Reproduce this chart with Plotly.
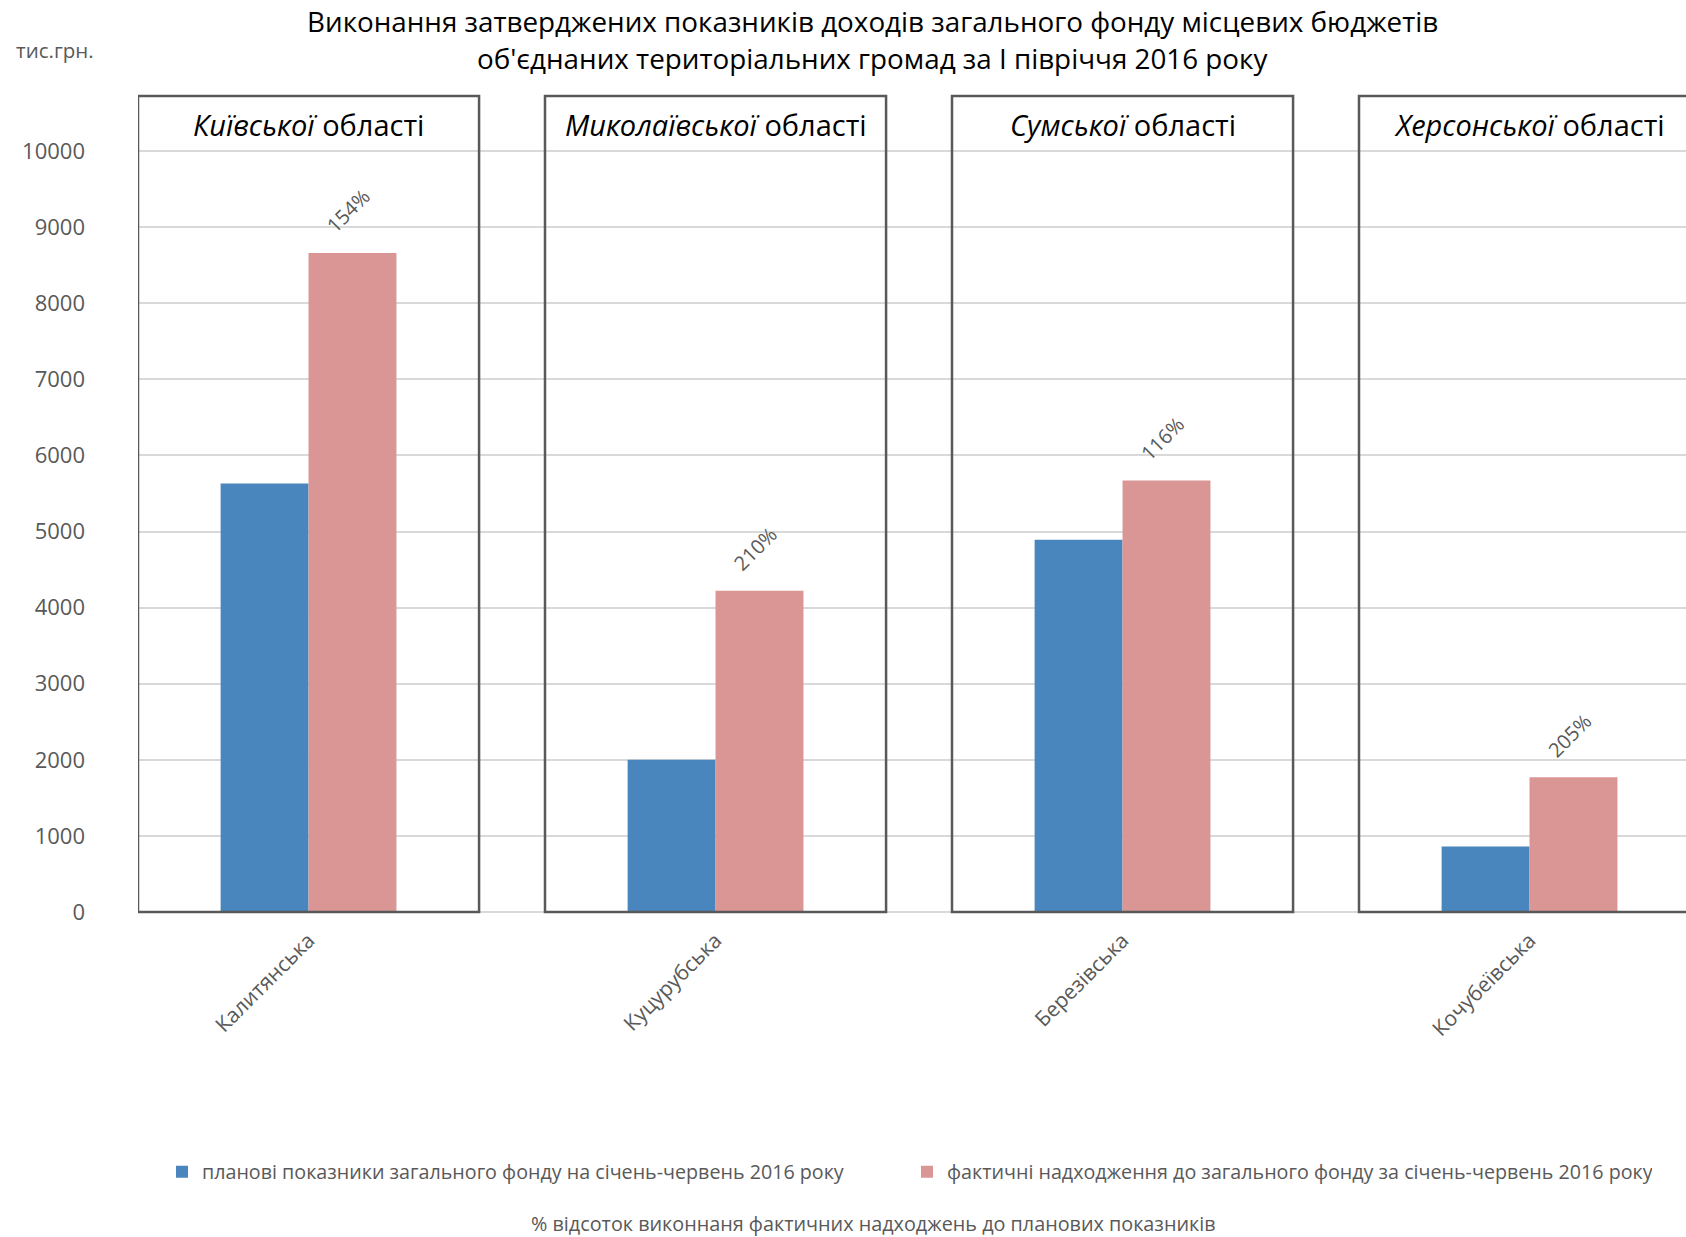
import plotly.graph_objects as go

# ---- data ----
communities = ["Калитянська", "Куцурубська", "Березівська", "Кочубеївська"]
regions_italic = ["Київської", "Миколаївської", "Сумської", "Херсонської"]
planned = [5630, 2000, 4890, 860]
actual = [8660, 4220, 5670, 1770]
pct_labels = ["154%", "210%", "116%", "205%"]
y_ticks = list(range(0, 10001, 1000))

series_names = [
    "планові показники загального фонду на січень-червень 2016 року",
    "фактичні надходження до загального фонду за січень-червень 2016 року",
]
title_lines = [
    "Виконання затверджених показників доходів загального фонду місцевих бюджетів",
    "об'єднаних територіальних громад за І півріччя 2016 року",
]
unit_label = "тис.грн."
footnote = "% відсоток виконнаня фактичних надходжень до планових показників"

# ---- layout geometry (screen px) ----
W, H = 1686, 1237
PL, PR, PT, PB = 138, 1686, 96, 912   # plot area in px
FONT = "Open Sans"
GREY = "#595959"
BLUE = "#4A86BE"
PINK = "#D99694"

def px_x(px):
    return (px - PL) / (PR - PL)

def px_y(py):
    return (PB - py) / (PB - PT)

xs = list(range(len(communities)))
bar_w = 0.216
box_half = 0.419
px_per_unit = 76.1 / 1000
y_top = (PB - PT) / px_per_unit

fig = go.Figure()
fig.add_trace(go.Bar(
    x=xs, y=planned, name=series_names[0], width=bar_w, offset=-bar_w,
    marker=dict(color=BLUE, line=dict(width=0)),
))
fig.add_trace(go.Bar(
    x=xs, y=actual, name=series_names[1], width=bar_w, offset=0,
    marker=dict(color=PINK, line=dict(width=0)),
))

shapes = []
annotations = []
for i, x in enumerate(xs):
    shapes.append(dict(
        type="rect", xref="x", yref="paper",
        x0=x - box_half, x1=x + box_half, y0=0, y1=1,
        line=dict(color=GREY, width=2.5), fillcolor="rgba(0,0,0,0)", layer="above",
    ))
    annotations.append(dict(
        x=x, xref="x", y=px_y(125), yref="paper",
        text=f"<i>{regions_italic[i]}</i> області", showarrow=False,
        font=dict(family=FONT, size=29, color="#000000"),
        xanchor="center", yanchor="middle",
    ))
    annotations.append(dict(
        x=x + bar_w / 2, xref="x", y=actual[i], yref="y",
        text=pct_labels[i], showarrow=False, textangle=-45,
        font=dict(family=FONT, size=20, color=GREY),
        xanchor="center", yanchor="middle", yshift=42, xshift=-4,
    ))

annotations.append(dict(
    x=px_x(872), xref="paper", y=px_y(21), yref="paper", text=title_lines[0],
    showarrow=False, font=dict(family=FONT, size=27.8, color="#000000"),
    xanchor="center", yanchor="middle",
))
annotations.append(dict(
    x=px_x(872), xref="paper", y=px_y(58), yref="paper", text=title_lines[1],
    showarrow=False, font=dict(family=FONT, size=27.8, color="#000000"),
    xanchor="center", yanchor="middle",
))
annotations.append(dict(
    x=px_x(14), xref="paper", y=px_y(50), yref="paper", text=unit_label,
    showarrow=False, font=dict(family=FONT, size=20.5, color=GREY),
    xanchor="left", yanchor="middle",
))
annotations.append(dict(
    x=px_x(873), xref="paper", y=px_y(1223), yref="paper", text=footnote,
    showarrow=False, font=dict(family=FONT, size=19.8, color=GREY),
    xanchor="center", yanchor="middle",
))

fig.update_layout(
    width=W, height=H,
    margin=dict(l=PL, r=W - PR, t=PT, b=H - PB, pad=0),
    paper_bgcolor="white", plot_bgcolor="white",
    font=dict(family=FONT, color=GREY),
    barmode="overlay",
    hovermode=False,
    showlegend=True,
    legend=dict(
        orientation="h", x=px_x(162), xanchor="left", y=px_y(1172), yanchor="middle",
        font=dict(family=FONT, size=19.7, color=GREY),
        entrywidth=700, entrywidthmode="pixels",
        itemclick=False, itemdoubleclick=False,
    ),
    shapes=shapes,
    annotations=annotations,
    xaxis=dict(
        range=[-box_half, (PR - PL) / 407 - box_half],
        tickvals=xs, ticktext=communities, tickangle=-45,
        showgrid=False, zeroline=False, showline=False, ticks="",
        tickfont=dict(family=FONT, size=21, color=GREY),
        ticklabelstandoff=11,
    ),
    yaxis=dict(
        range=[0, y_top], tickvals=y_ticks, ticktext=[str(v) for v in y_ticks],
        showgrid=True, gridcolor="#D9D9D9", gridwidth=1.5,
        zeroline=True, zerolinecolor="#D9D9D9", zerolinewidth=1.5,
        showline=False, ticks="",
        tickfont=dict(family=FONT, size=22, color=GREY),
        ticklabelstandoff=52,
    ),
)

fig.write_html(
    "out.html",
    config={"displayModeBar": False},
    post_script="document.body.style.margin='0';document.body.style.overflow='hidden';",
)
